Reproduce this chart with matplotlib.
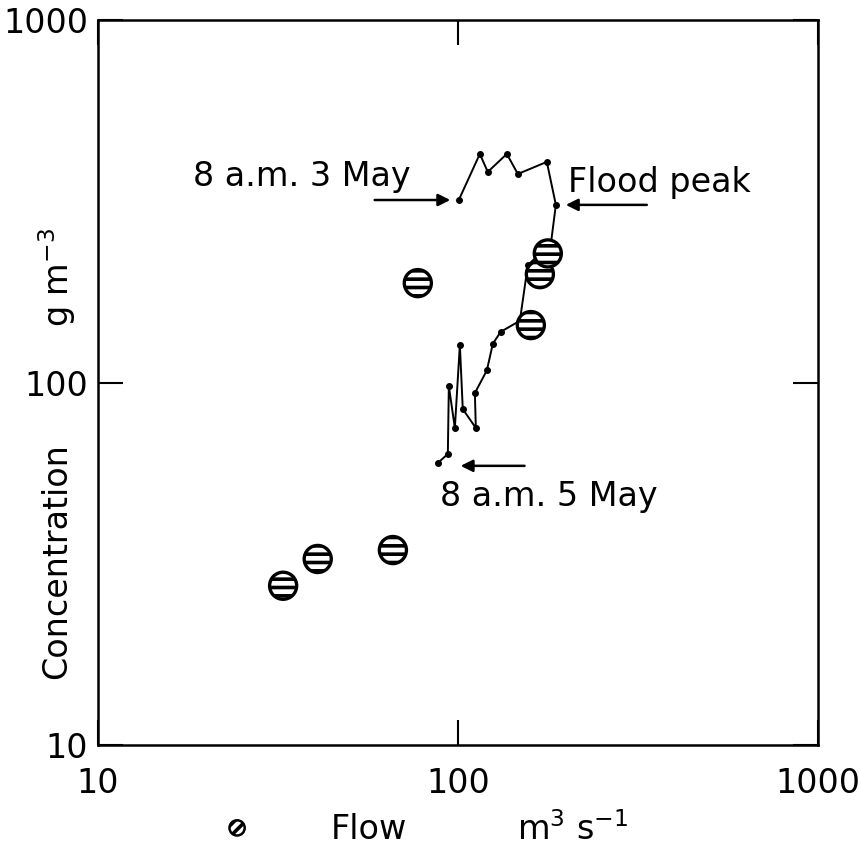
import matplotlib.pyplot as plt

plt.rcParams['font.family'] = ['DejaVu Sans']
plt.rcParams['hatch.linewidth'] = 2.6

# hatched circles: flow (m3/s) vs concentration (g/m3)
flow_pts = [32.7, 40.8, 66.0, 77.4, 159.5, 169.0, 177.8]
conc_pts = [27.5, 32.6, 34.5, 188.0, 144.0, 199.0, 227.0]

# hysteresis path, from 8 a.m. 3 May to 8 a.m. 5 May
flow_path = [100.6, 115.1, 121.1, 136.8, 146.8, 176.7, 187.2, 181.3, 156.5,
             148.7, 131.6, 125.1, 120.4, 111.5, 112.2, 103.2, 101.3, 98.1,
             94.4, 93.8, 88.0]
conc_path = [318.7, 427.0, 381.0, 427.0, 376.0, 406.0, 309.0, 241.0, 211.0,
             148.0, 138.0, 128.0, 108.0, 93.5, 74.9, 84.5, 127.0, 74.9,
             97.8, 63.5, 60.0]

fig = plt.figure(figsize=(8.59, 8.5), dpi=100)
ax = fig.add_axes([0.114, 0.1235, 0.838, 0.853])
ax.set_xscale('log')
ax.set_yscale('log')
ax.set_xlim(10, 1000)
ax.set_ylim(10, 1000)

ax.plot(flow_path, conc_path, color='black', lw=1.4, marker='o', ms=4, zorder=3)
ax.scatter(flow_pts, conc_pts, s=380, facecolor='white', edgecolor='black',
           linewidth=2.4, hatch='--', zorder=4)

ax.set_xticks([10, 100, 1000])
ax.set_yticks([10, 100, 1000])
ax.set_xticklabels(['10', '100', '1000'])
ax.set_yticklabels(['10', '100', '1000'])
ax.minorticks_off()
ax.tick_params(which='major', direction='in', length=18, width=1.5,
               top=True, right=True, labelsize=24)
ax.tick_params(axis='x', pad=16)
ax.tick_params(axis='y', pad=7)
for s in ax.spines.values():
    s.set_linewidth(1.8)

arrow = dict(arrowstyle='-|>', color='black', lw=1.8, mutation_scale=18)
ax.annotate('', xy=(97, 318.7), xytext=(57.7, 318.7), arrowprops=arrow)
ax.annotate('', xy=(196, 309), xytext=(341, 309), arrowprops=arrow)
ax.annotate('', xy=(100, 58.9), xytext=(156, 58.9), arrowprops=arrow)

ax.text(18.4, 369, '8 a.m. 3 May', fontsize=24, ha='left', va='center')
ax.text(202, 357, 'Flood peak', fontsize=24, ha='left', va='center')
ax.text(89, 48.6, '8 a.m. 5 May', fontsize=24, ha='left', va='center')

fig.text(0.066, 0.34, 'Concentration', rotation=90, fontsize=24,
         ha='center', va='center')
fig.text(0.066, 0.674, 'g m$^{\\mathregular{-3}}$', rotation=90, fontsize=24,
         ha='center', va='center')

ax.scatter([0.276], [0.026], s=120, facecolor='white', edgecolor='black',
           linewidth=1.8, hatch='///', transform=fig.transFigure, clip_on=False)
fig.text(0.43, 0.024, 'Flow', fontsize=24, ha='center', va='center')
fig.text(0.667, 0.024, 'm$^{\\mathregular{3}}$ s$^{\\mathregular{-1}}$',
         fontsize=24, ha='center', va='center')

plt.savefig('out.png', dpi=100)
